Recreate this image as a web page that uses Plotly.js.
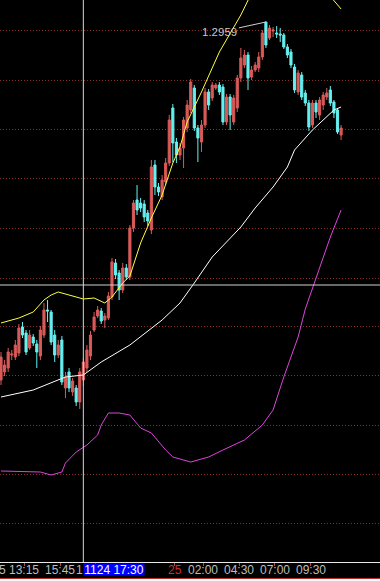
<!DOCTYPE html>
<html><head><meta charset="utf-8">
<script src="https://cdn.plot.ly/plotly-3.0.1.min.js"></script>
<style>html,body{margin:0;padding:0;background:#fff;overflow:hidden}
#chart{width:380px;height:578px;border-bottom:1px solid #b83030;background:#000}</style>
</head><body><div id="chart"></div><script>
// 15-minute candles (price)
const open = [1.2601,1.2609,1.2613,1.2626,1.2624,1.2628,1.2654,1.2648,1.2633,1.2644,
1.2637,1.2625,1.2646,1.2671,1.2669,1.2646,1.2626,1.2641,1.2593,1.2609,
1.2589,1.2593,1.2579,1.2601,1.2613,1.2625,1.2651,1.2665,1.2670,1.2661,
1.2663,1.2684,1.2718,1.2708,1.2691,1.2713,1.2704,1.2753,1.2781,1.2778,
1.2777,1.2768,1.2751,1.2816,1.2794,1.2784,1.2799,1.2818,1.2873,1.2839,
1.2826,1.2833,1.2853,1.2871,1.2893,1.2853,1.2839,1.2856,1.2889,1.2883,
1.2893,1.2896,1.2894,1.2859,1.2884,1.2859,1.2873,1.2903,1.2916,1.2926,
1.2904,1.2911,1.2913,1.2924,1.2959,1.2943,1.2950,1.2948,1.2947,1.2946,
1.2934,1.2929,1.2914,1.2889,1.2906,1.2888,1.2878,1.2856,1.2878,1.2866,
1.2876,1.2884,1.2891,1.2879,1.2871,1.2846];
const high = [1.2629,1.2621,1.2633,1.2631,1.2641,1.2657,1.2659,1.2651,1.2651,1.2647,
1.2641,1.2655,1.2678,1.2681,1.2671,1.2651,1.2641,1.2645,1.2609,1.2613,
1.2603,1.2596,1.2613,1.2623,1.2636,1.2650,1.2669,1.2675,1.2673,1.2668,
1.2689,1.2723,1.2722,1.2711,1.2718,1.2717,1.2756,1.2781,1.2796,1.2783,
1.2781,1.2771,1.2821,1.2821,1.2798,1.2806,1.2823,1.2866,1.2877,1.2843,
1.2838,1.2864,1.2881,1.2902,1.2896,1.2856,1.2861,1.2893,1.2892,1.2899,
1.2898,1.2899,1.2897,1.2887,1.2887,1.2886,1.2906,1.2933,1.2931,1.2929,
1.2915,1.2919,1.2929,1.2951,1.2959,1.2956,1.2954,1.2955,1.2953,1.2948,
1.2937,1.2932,1.2917,1.2911,1.2909,1.2891,1.2881,1.2881,1.2881,1.2884,
1.2889,1.2893,1.2895,1.2881,1.2873,1.2856];
const low = [1.2596,1.2605,1.2609,1.2621,1.2621,1.2625,1.2643,1.2626,1.2631,1.2635,
1.2613,1.2621,1.2643,1.2659,1.2636,1.2619,1.2623,1.2596,1.2583,1.2589,
1.2585,1.2575,1.2572,1.2595,1.2609,1.2621,1.2649,1.2663,1.2657,1.2653,
1.2661,1.2681,1.2702,1.2681,1.2688,1.2701,1.2701,1.2749,1.2766,1.2769,
1.2759,1.2755,1.2747,1.2786,1.2785,1.2781,1.2796,1.2815,1.2819,1.2818,
1.2821,1.2813,1.2849,1.2868,1.2850,1.2819,1.2829,1.2853,1.2871,1.2880,
1.2891,1.2886,1.2856,1.2856,1.2851,1.2856,1.2869,1.2899,1.2913,1.2891,
1.2901,1.2909,1.2909,1.2921,1.2933,1.2941,1.2944,1.2943,1.2939,1.2932,
1.2923,1.2913,1.2888,1.2886,1.2881,1.2875,1.2850,1.2853,1.2863,1.2861,
1.2871,1.2881,1.2875,1.2863,1.2847,1.2841];
const close = [1.2624,1.2616,1.2629,1.2627,1.2636,1.2653,1.2646,1.2629,1.2646,1.2638,
1.2629,1.2651,1.2671,1.2670,1.2639,1.2626,1.2636,1.2599,1.2604,1.2593,
1.2600,1.2579,1.2609,1.2619,1.2631,1.2646,1.2664,1.2671,1.2660,1.2665,
1.2685,1.2719,1.2706,1.2691,1.2713,1.2704,1.2753,1.2778,1.2771,1.2773,
1.2764,1.2760,1.2814,1.2794,1.2789,1.2801,1.2818,1.2861,1.2838,1.2826,
1.2833,1.2861,1.2876,1.2899,1.2853,1.2843,1.2856,1.2889,1.2876,1.2896,
1.2896,1.2889,1.2859,1.2884,1.2866,1.2883,1.2903,1.2923,1.2926,1.2903,
1.2911,1.2916,1.2924,1.2948,1.2936,1.2953,1.2951,1.2947,1.2946,1.2934,
1.2926,1.2916,1.2891,1.2908,1.2884,1.2878,1.2854,1.2878,1.2869,1.2881,
1.2886,1.2888,1.2878,1.2868,1.2849,1.2853];

// indicator lines (bar index -> value)
const yellowIdx = [0,5,9,12,14,16,19,23,26,29,31,34,36,39,42,45,48,50,52,56,61,67,70,74,80,86,90,93,95];
const yellowVal = [1.2658,1.2663,1.2669,1.2681,1.2686,1.2689,1.2686,1.2682,1.2683,1.2678,1.2684,1.2698,1.2705,1.2738,1.2763,1.2786,1.2818,1.2834,1.2859,1.2889,1.2929,1.2966,1.2988,1.3002,1.3010,1.3005,1.2993,1.2981,1.2972];
const whiteIdx = [0,9,18,23,28,36,45,50,54,59,67,71,76,80,82,87,93,95];
const whiteVal = [1.2584,1.2591,1.2604,1.2606,1.2619,1.2636,1.2661,1.2678,1.2698,1.2724,1.2754,1.2773,1.2794,1.2814,1.2831,1.2851,1.2871,1.2874];
const magentaIdx = [0,11,14,17,18,21,24,27,28,30,33,36,39,42,46,48,53,58,62,68,73,76,79,83,85,88,90,92,95];
const magentaVal = [1.2510,1.2509,1.2506,1.2509,1.2518,1.2529,1.2536,1.2546,1.2556,1.2568,1.2568,1.2566,1.2553,1.2548,1.2531,1.2524,1.2519,1.2524,1.2531,1.2541,1.2556,1.2571,1.2604,1.2644,1.2672,1.2703,1.2724,1.2744,1.2771];

// grid levels, time ticks, visible time labels, crosshair
const gridLevels = [1.2951,1.2901,1.2852,1.2803,1.2753,1.2703,1.2655,1.2606,1.2556,1.2507,1.2458];
const tickIdx = [6.5,16.5,26.5,48.5,56.5,66.5,76.5,86.5];
const labelIdx = [-3.5,6.5,16.5,26.5,48.5,56.5,66.5,76.5,86.5];
const labelText = ['5','13:15','15:45','1','25','02:00','04:30','07:00','09:30'];
const crossIdx = 23;
const crossPrice = 1.2696;
const crossLabel = '1124 17:30';

const xs = open.map((_, i) => i);
const xmin = -0.28, xmax = 105.87;
const FONT = 'Liberation Sans, Arial, sans-serif';

let hiIdx = 0;
high.forEach((h, i) => { if (h > high[hiIdx]) hiIdx = i; });

const traces = [
  {type:'candlestick', x:xs, open:open, high:high, low:low, close:close,
   increasing:{line:{color:'#d95a58', width:1}, fillcolor:'#d95a58'},
   decreasing:{line:{color:'#66f0f0', width:1}, fillcolor:'#66f0f0'},
   whiskerwidth:0, hoverinfo:'skip'},
  {type:'scatter', mode:'lines', x:yellowIdx, y:yellowVal, line:{color:'#ffff40', width:1}, hoverinfo:'skip'},
  {type:'scatter', mode:'lines', x:whiteIdx, y:whiteVal, line:{color:'#ffffff', width:1}, hoverinfo:'skip'},
  {type:'scatter', mode:'lines', x:magentaIdx, y:magentaVal, line:{color:'#dd44dd', width:1}, hoverinfo:'skip'}
];

const annotations = labelIdx.map((t, k) => {
  const isDate = labelText[k].indexOf(':') < 0 && labelText[k].length === 2;
  let x = t, xanchor = 'center', xshift = 0;
  if (t < xmin) { x = xmin; xanchor = 'left'; xshift = -2; }           // label clipped at the left edge
  else if (labelText[k].length === 1) { x = crossIdx; xanchor = 'right'; xshift = 1; } // label hidden behind crosshair box
  return {xref:'x', yref:'paper', x:x, xshift:xshift, y:0, yanchor:'top', xanchor:xanchor, borderpad:0,
    showarrow:false, text:labelText[k],
    font:{family:FONT, size:12, color: isDate ? '#c83030' : '#bdbdbd'}};
});
annotations.push({xref:'x', yref:'paper', x:crossIdx, xanchor:'left', y:0, yanchor:'top', yshift:-1,
  showarrow:false, text:crossLabel, bgcolor:'#0000ff', borderpad:0, width:60, height:11,
  font:{family:FONT, size:12, color:'#ffffff'}});
annotations.push({xref:'x', yref:'y', x:hiIdx, y:high[hiIdx], text:high[hiIdx].toFixed(4),
  showarrow:true, arrowhead:0, arrowwidth:1, arrowcolor:'#d0d0d0', ax:-46, ay:10, standoff:0,
  font:{family:FONT, size:11.5, color:'#c8c8c8'}});

const layout = {
  width:380, height:578, margin:{l:0, r:0, t:0, b:16},
  paper_bgcolor:'#000', plot_bgcolor:'#000', showlegend:false, boxgap:0.15,
  xaxis:{range:[xmin, xmax], showgrid:false, zeroline:false, rangeslider:{visible:false},
    showline:true, linecolor:'#e8e8e8', linewidth:1, ticks:'outside', ticklen:3, tickcolor:'#c04040',
    tickmode:'array', tickvals:tickIdx, showticklabels:false, fixedrange:true},
  yaxis:{range:[1.2419, 1.2981], tickmode:'array', tickvals:gridLevels, showticklabels:false,
    showgrid:true, gridcolor:'#8a3030', gridwidth:1, griddash:'1px,2px', zeroline:false, showline:false, fixedrange:true},
  shapes:[
    {type:'line', xref:'x', yref:'paper', x0:crossIdx, x1:crossIdx, y0:0, y1:1, line:{color:'#d8d8d8', width:1}, layer:'above'},
    {type:'line', xref:'paper', yref:'y', x0:0, x1:1, y0:crossPrice, y1:crossPrice, line:{color:'#d0d0d0', width:1}, layer:'above'}
  ],
  annotations:annotations
};
Plotly.newPlot('chart', traces, layout, {staticPlot:true, displayModeBar:false});
</script></body></html>
